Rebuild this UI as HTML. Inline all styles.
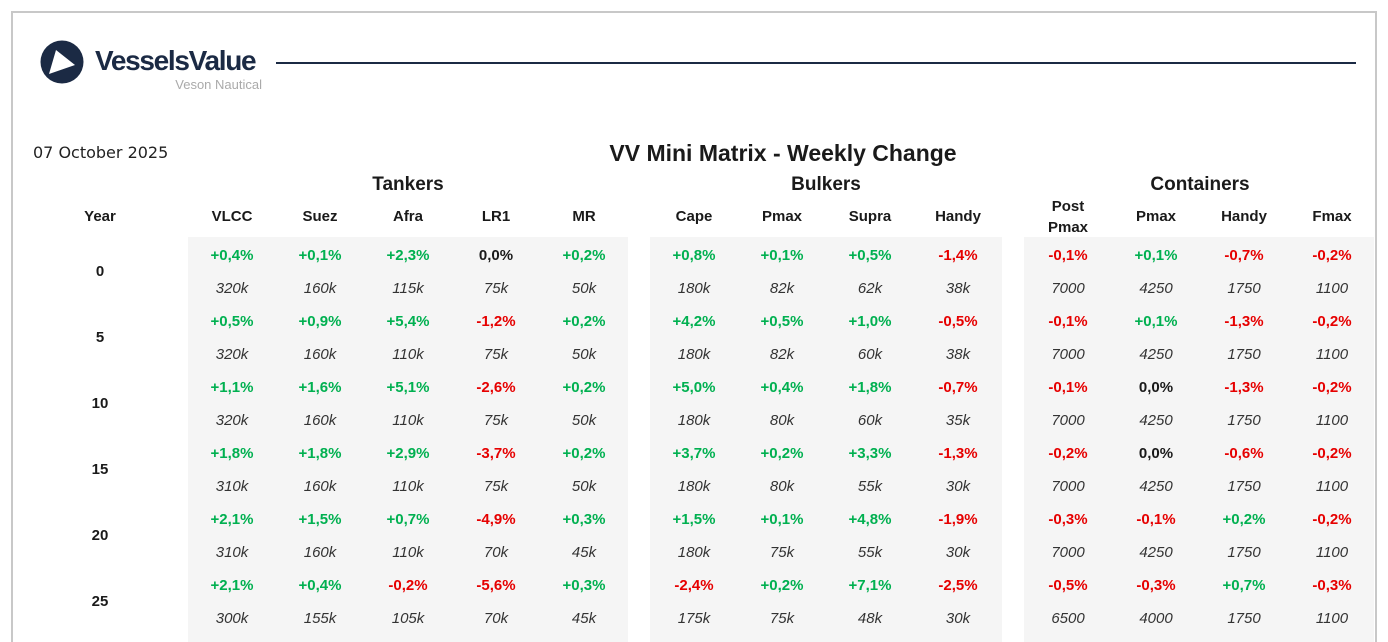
<!DOCTYPE html>
<html><head><meta charset="utf-8"><style>
*{margin:0;padding:0;box-sizing:border-box}
html{height:642px;overflow:hidden}
body{width:1388px;height:642px;background:#fff;position:relative;overflow:hidden;font-family:"Liberation Sans",Arial,sans-serif;color:#1a1a1a}
.frame{position:absolute;left:11px;top:11px;width:1366px;height:631px;border:2px solid #c8c8c8;border-bottom:none}
.a{position:absolute}
.g{position:absolute;top:237px;height:405px;background:#f5f5f5}
.line{position:absolute;left:188px;display:flex;height:33px;align-items:center;font-size:15px}
.line div{width:88px;text-align:center}
.line .s{width:22px}
.p div{font-weight:bold}
.v div{font-style:italic;color:#333}
.G{color:#00b050}.R{color:#e60000}.K{color:#1a1a1a}
.h{position:absolute;font-weight:bold;font-size:15px;text-align:center;width:88px}
.yr{position:absolute;left:56px;width:88px;text-align:center;font-weight:bold;font-size:15px}
</style></head><body>
<div class="frame"></div>
<svg class="a" style="left:40px;top:40px" width="46" height="46" viewBox="0 0 46 46"><circle cx="22" cy="22" r="21.5" fill="#1b2a44"/><polygon points="16,10 35,25 9,34" fill="#fff"/></svg>
<div class="a" style="left:95px;top:45px;font-size:28px;font-weight:bold;color:#1b2a44;letter-spacing:-1.3px">VesselsValue</div>
<div class="a" style="left:162px;top:77px;font-size:13px;color:#aaa;width:100px;text-align:right">Veson Nautical</div>
<div class="a" style="left:276px;top:62px;width:1080px;height:2px;background:#1b2a44"></div>
<div class="a" style="left:33px;top:143px;font-size:16px;font-family:'DejaVu Sans',sans-serif;color:#222">07 October 2025</div>
<div class="a" style="left:483px;top:140px;width:600px;text-align:center;font-size:23px;font-weight:bold">VV Mini Matrix - Weekly Change</div>
<div class="a" style="left:308px;top:174px;width:200px;text-align:center;font-size:19px;font-weight:bold">Tankers</div>
<div class="a" style="left:726px;top:174px;width:200px;text-align:center;font-size:19px;font-weight:bold">Bulkers</div>
<div class="a" style="left:1100px;top:174px;width:200px;text-align:center;font-size:19px;font-weight:bold">Containers</div>
<div class="h" style="left:56px;top:208px">Year</div>
<div class="h" style="left:188px;top:208px">VLCC</div>
<div class="h" style="left:276px;top:208px">Suez</div>
<div class="h" style="left:364px;top:208px">Afra</div>
<div class="h" style="left:452px;top:208px">LR1</div>
<div class="h" style="left:540px;top:208px">MR</div>
<div class="h" style="left:650px;top:208px">Cape</div>
<div class="h" style="left:738px;top:208px">Pmax</div>
<div class="h" style="left:826px;top:208px">Supra</div>
<div class="h" style="left:914px;top:208px">Handy</div>
<div class="h" style="left:1024px;top:196px;line-height:21px">Post<br>Pmax</div>
<div class="h" style="left:1112px;top:208px">Pmax</div>
<div class="h" style="left:1200px;top:208px">Handy</div>
<div class="h" style="left:1288px;top:208px">Fmax</div>
<div class="g" style="left:188px;width:440px"></div>
<div class="g" style="left:650px;width:352px"></div>
<div class="g" style="left:1024px;width:350px"></div>

<div class="yr" style="top:263px">0</div>
<div class="yr" style="top:329px">5</div>
<div class="yr" style="top:395px">10</div>
<div class="yr" style="top:461px">15</div>
<div class="yr" style="top:527px">20</div>
<div class="yr" style="top:593px">25</div>

<div class="line p" style="top:239px"><div class="G">+0,4%</div><div class="G">+0,1%</div><div class="G">+2,3%</div><div class="K">0,0%</div><div class="G">+0,2%</div><div class="s"></div><div class="G">+0,8%</div><div class="G">+0,1%</div><div class="G">+0,5%</div><div class="R">-1,4%</div><div class="s"></div><div class="R">-0,1%</div><div class="G">+0,1%</div><div class="R">-0,7%</div><div class="R">-0,2%</div></div>
<div class="line v" style="top:272px"><div>320k</div><div>160k</div><div>115k</div><div>75k</div><div>50k</div><div class="s"></div><div>180k</div><div>82k</div><div>62k</div><div>38k</div><div class="s"></div><div>7000</div><div>4250</div><div>1750</div><div>1100</div></div>

<div class="line p" style="top:305px"><div class="G">+0,5%</div><div class="G">+0,9%</div><div class="G">+5,4%</div><div class="R">-1,2%</div><div class="G">+0,2%</div><div class="s"></div><div class="G">+4,2%</div><div class="G">+0,5%</div><div class="G">+1,0%</div><div class="R">-0,5%</div><div class="s"></div><div class="R">-0,1%</div><div class="G">+0,1%</div><div class="R">-1,3%</div><div class="R">-0,2%</div></div>
<div class="line v" style="top:338px"><div>320k</div><div>160k</div><div>110k</div><div>75k</div><div>50k</div><div class="s"></div><div>180k</div><div>82k</div><div>60k</div><div>38k</div><div class="s"></div><div>7000</div><div>4250</div><div>1750</div><div>1100</div></div>

<div class="line p" style="top:371px"><div class="G">+1,1%</div><div class="G">+1,6%</div><div class="G">+5,1%</div><div class="R">-2,6%</div><div class="G">+0,2%</div><div class="s"></div><div class="G">+5,0%</div><div class="G">+0,4%</div><div class="G">+1,8%</div><div class="R">-0,7%</div><div class="s"></div><div class="R">-0,1%</div><div class="K">0,0%</div><div class="R">-1,3%</div><div class="R">-0,2%</div></div>
<div class="line v" style="top:404px"><div>320k</div><div>160k</div><div>110k</div><div>75k</div><div>50k</div><div class="s"></div><div>180k</div><div>80k</div><div>60k</div><div>35k</div><div class="s"></div><div>7000</div><div>4250</div><div>1750</div><div>1100</div></div>

<div class="line p" style="top:437px"><div class="G">+1,8%</div><div class="G">+1,8%</div><div class="G">+2,9%</div><div class="R">-3,7%</div><div class="G">+0,2%</div><div class="s"></div><div class="G">+3,7%</div><div class="G">+0,2%</div><div class="G">+3,3%</div><div class="R">-1,3%</div><div class="s"></div><div class="R">-0,2%</div><div class="K">0,0%</div><div class="R">-0,6%</div><div class="R">-0,2%</div></div>
<div class="line v" style="top:470px"><div>310k</div><div>160k</div><div>110k</div><div>75k</div><div>50k</div><div class="s"></div><div>180k</div><div>80k</div><div>55k</div><div>30k</div><div class="s"></div><div>7000</div><div>4250</div><div>1750</div><div>1100</div></div>

<div class="line p" style="top:503px"><div class="G">+2,1%</div><div class="G">+1,5%</div><div class="G">+0,7%</div><div class="R">-4,9%</div><div class="G">+0,3%</div><div class="s"></div><div class="G">+1,5%</div><div class="G">+0,1%</div><div class="G">+4,8%</div><div class="R">-1,9%</div><div class="s"></div><div class="R">-0,3%</div><div class="R">-0,1%</div><div class="G">+0,2%</div><div class="R">-0,2%</div></div>
<div class="line v" style="top:536px"><div>310k</div><div>160k</div><div>110k</div><div>70k</div><div>45k</div><div class="s"></div><div>180k</div><div>75k</div><div>55k</div><div>30k</div><div class="s"></div><div>7000</div><div>4250</div><div>1750</div><div>1100</div></div>

<div class="line p" style="top:569px"><div class="G">+2,1%</div><div class="G">+0,4%</div><div class="R">-0,2%</div><div class="R">-5,6%</div><div class="G">+0,3%</div><div class="s"></div><div class="R">-2,4%</div><div class="G">+0,2%</div><div class="G">+7,1%</div><div class="R">-2,5%</div><div class="s"></div><div class="R">-0,5%</div><div class="R">-0,3%</div><div class="G">+0,7%</div><div class="R">-0,3%</div></div>
<div class="line v" style="top:602px"><div>300k</div><div>155k</div><div>105k</div><div>70k</div><div>45k</div><div class="s"></div><div>175k</div><div>75k</div><div>48k</div><div>30k</div><div class="s"></div><div>6500</div><div>4000</div><div>1750</div><div>1100</div></div>
</body></html>
